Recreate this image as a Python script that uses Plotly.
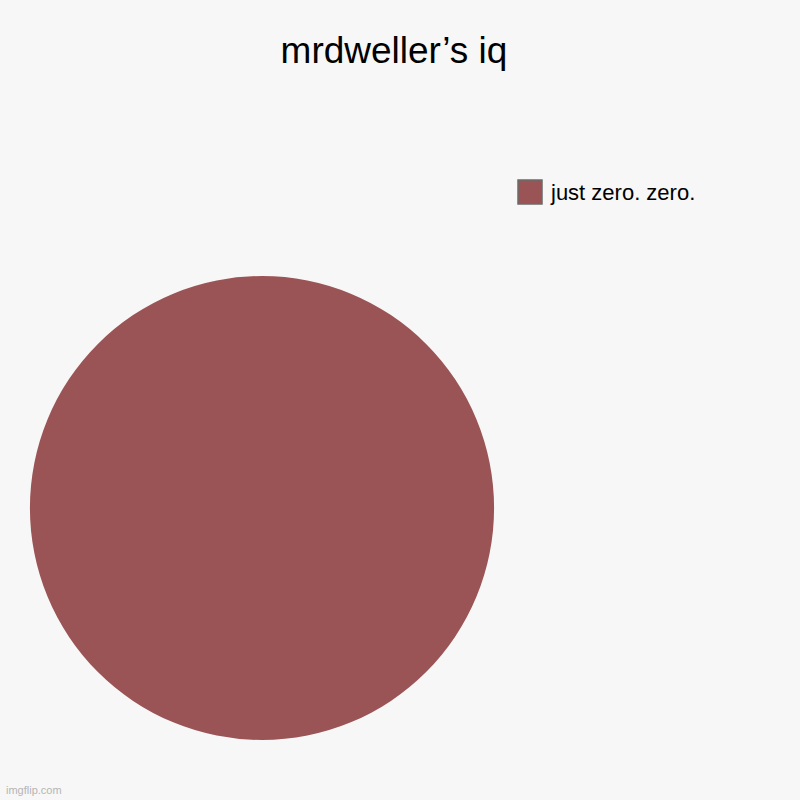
import plotly.graph_objects as go

TITLE = "mrdweller’s iq"
labels = ["just zero. zero."]
values = [1]
colors = ["#9b5455"]

BG = "#f7f7f7"

fig = go.Figure()
fig.add_trace(
    go.Pie(
        labels=labels,
        values=values,
        marker={"colors": colors, "line": {"width": 0}},
        textinfo="none",
        hoverinfo="label+value",
        sort=False,
        showlegend=False,
        domain={"x": [0.0375, 0.6175], "y": [0.075, 0.655]},
    )
)

# hand-drawn legend: plotly's pie swatch is fixed at 12px, the reference uses a bigger one
for i, (label, color) in enumerate(zip(labels, colors)):
    y0 = 180 + i * 34
    fig.add_shape(
        type="rect",
        xref="paper", yref="paper",
        x0=518 / 800, x1=542 / 800,
        y0=1 - (y0 + 24) / 800, y1=1 - y0 / 800,
        fillcolor=color,
        line={"color": "#6b6b6b", "width": 1.5},
    )
    fig.add_annotation(
        x=548 / 800, y=1 - (y0 + 12) / 800,
        xref="paper", yref="paper",
        xanchor="left", yanchor="middle",
        text=label, showarrow=False,
        font={"size": 22, "color": "#000000"},
    )

fig.add_annotation(
    x=4 / 800, y=1 - 790 / 800,
    xref="paper", yref="paper",
    xanchor="left", yanchor="middle",
    text="imgflip.com", showarrow=False,
    font={"size": 11, "color": "#b5b5b5"},
)

fig.update_layout(
    width=800,
    height=800,
    title={
        "text": TITLE,
        "x": 394 / 800,
        "xanchor": "center",
        "y": 1 - 50 / 800,
        "yanchor": "middle",
        "font": {"size": 37, "color": "#000000"},
    },
    font={"family": "Liberation Sans, Arial, sans-serif"},
    paper_bgcolor=BG,
    plot_bgcolor=BG,
    margin={"t": 0, "b": 0, "l": 0, "r": 0},
)

# drop the browser's default 8px body margin so the chart fills the window
fig.write_html(
    "out.html",
    config={"displayModeBar": False},
    post_script="document.body.style.margin = '0';",
)
